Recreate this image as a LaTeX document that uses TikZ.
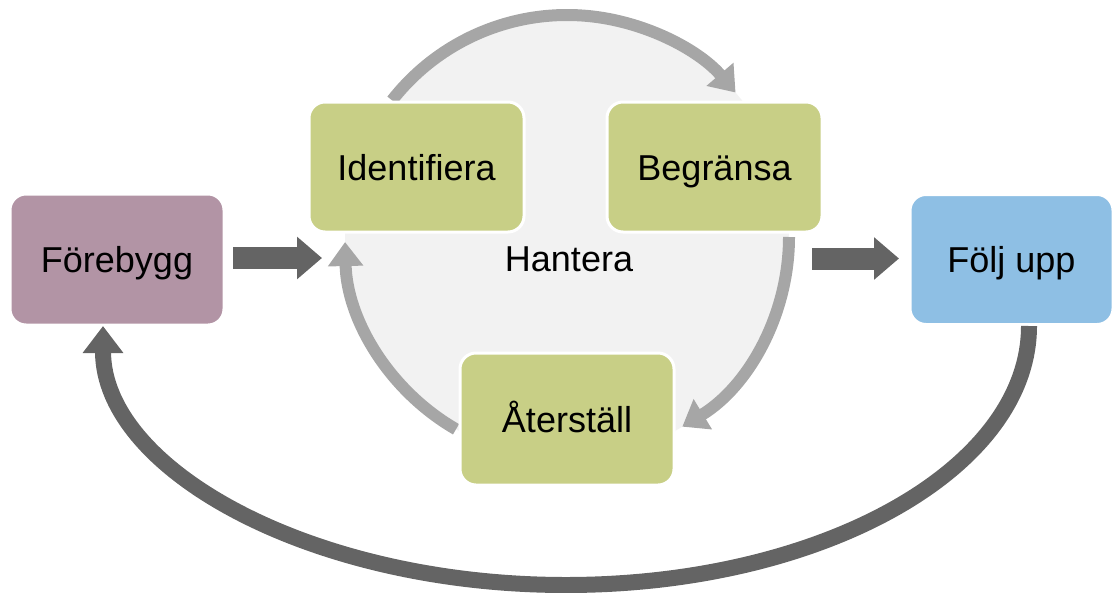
\documentclass[tikz,border=0pt]{standalone}
\usepackage{fontspec}
\setmainfont{Liberation Sans}
\usetikzlibrary{arrows.meta}
\definecolor{cpurple}{HTML}{B294A5}
\definecolor{cgreen}{HTML}{C8CF86}
\definecolor{cblue}{HTML}{8EBFE4}
\definecolor{carc}{HTML}{A6A6A6}
\definecolor{cdark}{HTML}{646464}
\definecolor{ccircle}{HTML}{F2F2F2}
\tikzset{
  box/.style={draw=white, line width=3pt, rounded corners=16pt, inner sep=0pt,
    text height=26pt, text depth=0pt, font=\fontsize{36}{43}\selectfont,
    minimum width=214pt, minimum height=131pt},
  lbl/.style={inner sep=0pt, text height=26pt, text depth=0pt, font=\fontsize{36}{43}\selectfont},
  cyclearrow/.style={draw=carc, line width=12pt, -{Triangle[length=24pt,width=34pt]}},
  blockarrow/.style={draw=cdark, line width=22pt, -{Triangle[length=25pt,width=41pt]}},
  backarrow/.style={draw=cdark, line width=16pt, -{Triangle[length=27pt,width=39pt]}}
}
\begin{document}
\begin{tikzpicture}[x=1pt,y=1pt]
\useasboundingbox (0,0) rectangle (1115,-592);
% circle of Hantera
\coordinate (cc) at (567,-237);
\fill[ccircle] (cc) circle[radius=222];
% cycle arrows
\draw[cyclearrow] ([shift={(142:222)}]cc) arc[start angle=142,end angle=40.6,radius=222];
\draw[cyclearrow] ([shift={(0:222)}]cc) arc[start angle=0,end angle=-58.7,radius=222];
\draw[cyclearrow] ([shift={(240:222)}]cc) arc[start angle=240,end angle=181.3,radius=222];
% boxes
\node[box, fill=cpurple] (fore) at (117,-259.5) {Förebygg};
\node[box, fill=cgreen, minimum width=215pt, minimum height=130pt] (iden) at (416.5,-167) {Identifiera};
\node[box, fill=cgreen, minimum width=215pt, minimum height=130pt] (begr) at (714.5,-167) {Begränsa};
\node[box, fill=cgreen, minimum height=132pt] (ater) at (567,-419) {Återställ};
\node[box, fill=cblue, minimum width=203pt, minimum height=130pt] (folj) at (1011.5,-259.5) {Följ upp};
\node[lbl] (hant) at (569,-258) {Hantera};
% block arrows
\coordinate (a1s) at (233,-258);
\coordinate (a1e) at (322,-258);
\coordinate (a2s) at (812,-258.5);
\coordinate (a2e) at (899,-258.5);
\draw[blockarrow] (a1s) -- (a1e);
\draw[blockarrow] (a2s) -- (a2e);
% feedback arrow from Följ upp to Förebygg
\coordinate (bs) at (1029,-326);
\draw[backarrow] (bs) arc[start angle=0,end angle=-180,x radius=463,y radius=259];
\end{tikzpicture}
\end{document}
